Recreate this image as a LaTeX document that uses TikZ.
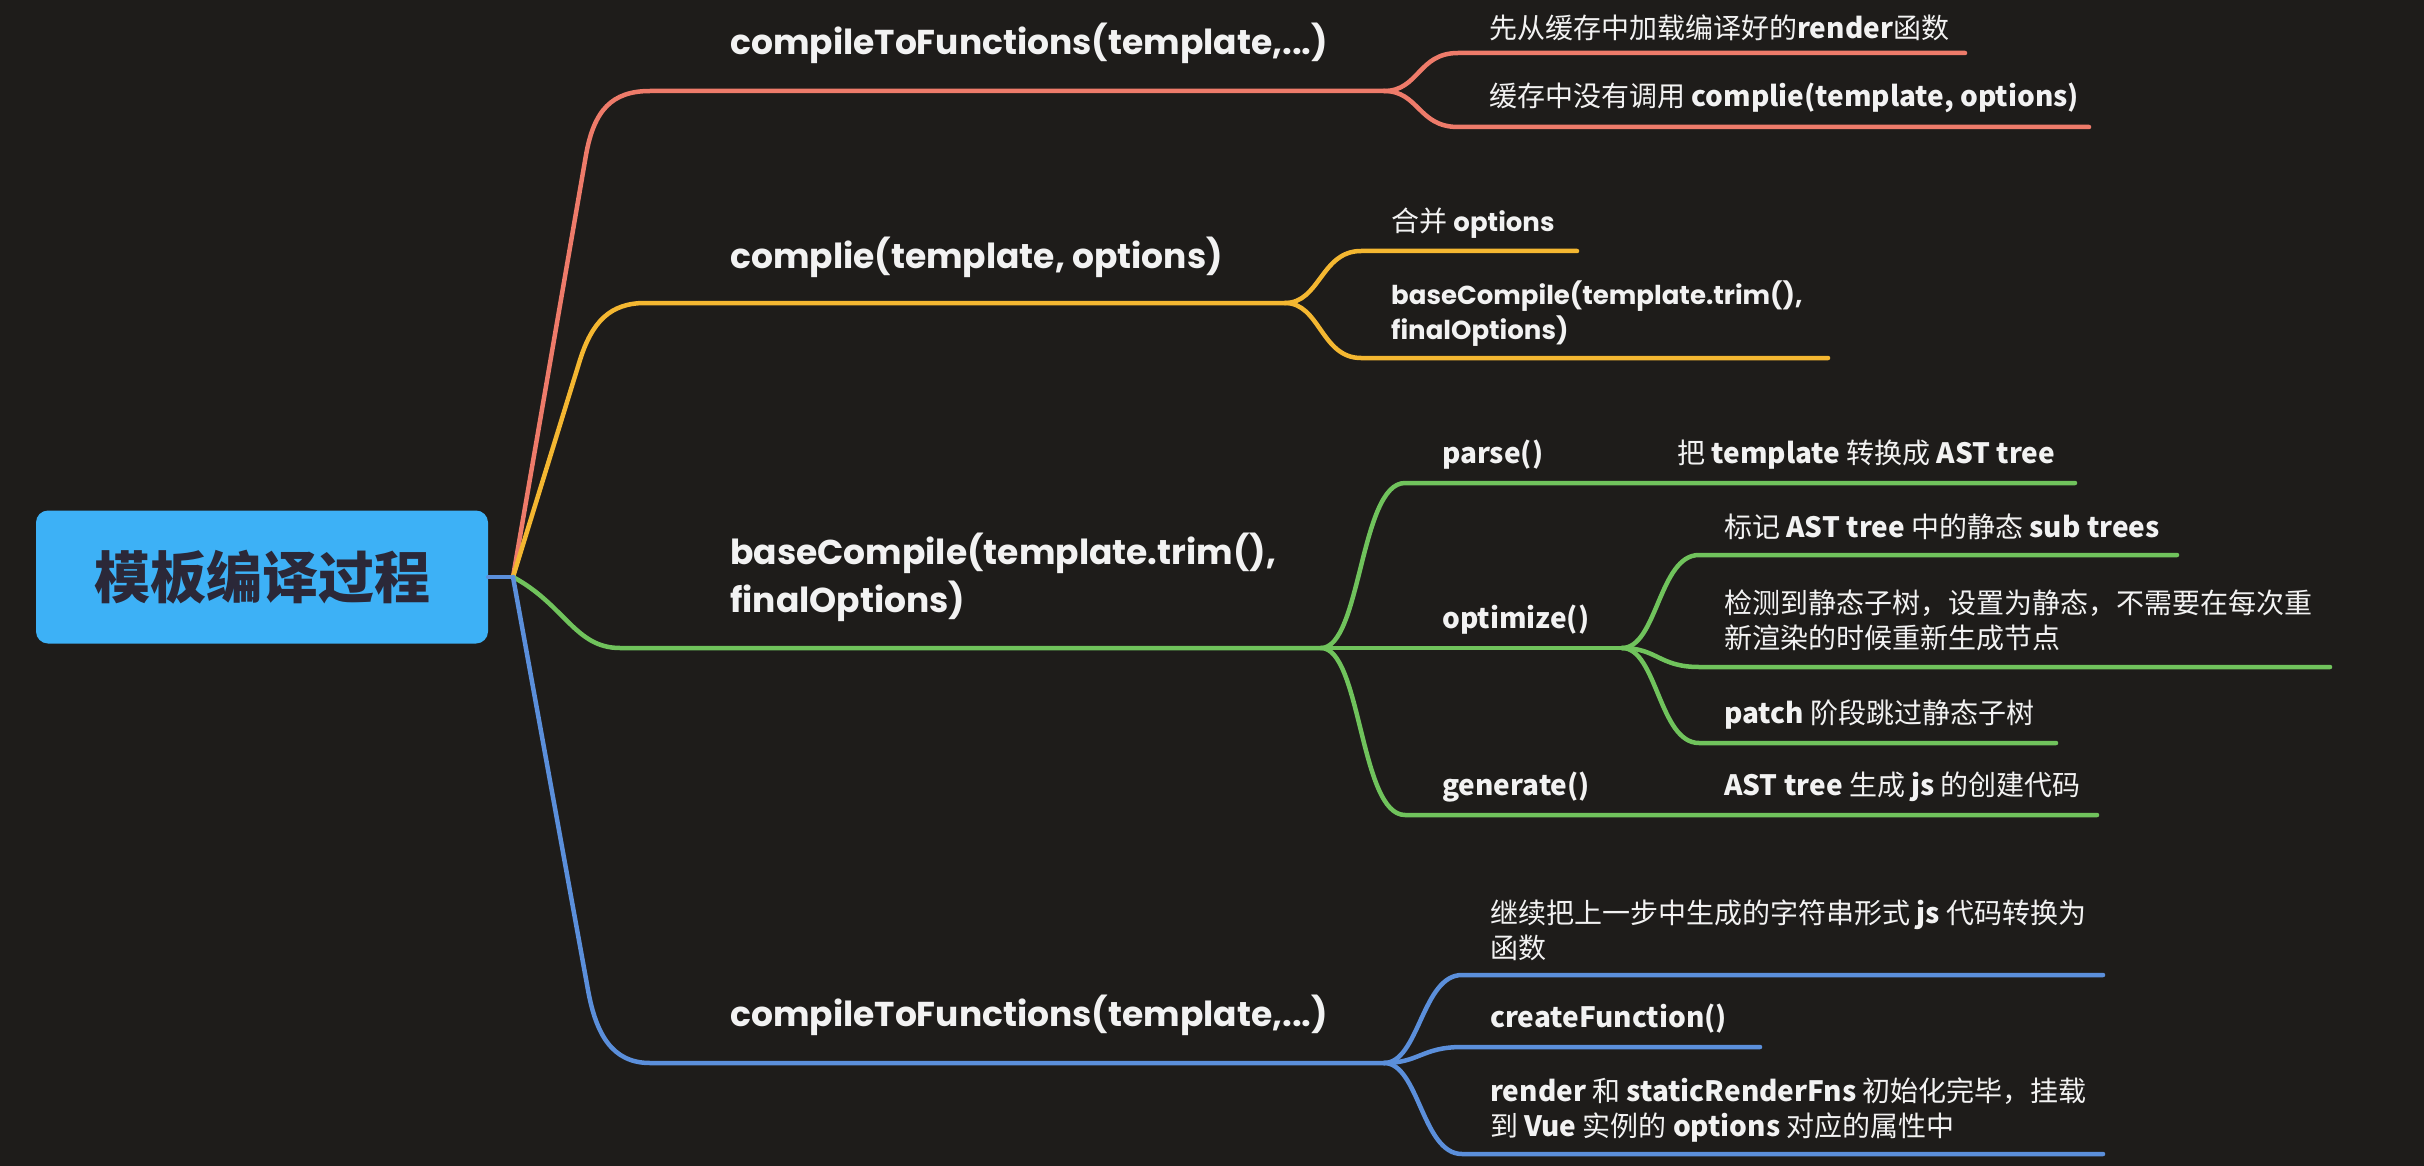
\documentclass[tikz,border=0pt]{standalone}
\usepackage{fontspec}
\newfontfamily\cjk{Noto Sans CJK SC}
\newfontfamily\pop{Poppins}
\definecolor{bgc}{HTML}{1E1C1A}
\definecolor{cred}{HTML}{EE7B6A}
\definecolor{cyel}{HTML}{F4B731}
\definecolor{cgrn}{HTML}{70C35C}
\definecolor{cblu}{HTML}{5B8FDB}
\definecolor{rootfill}{HTML}{3DB1F6}
\definecolor{roottext}{HTML}{2B2838}
\definecolor{txt}{HTML}{F2F2F2}
\newcommand\B[1]{{\bfseries #1}}
\newcommand\yl[1]{{\pop\bfseries\fontsize{26}{35}\selectfont #1}}
\begin{document}
\begin{tikzpicture}[x=1pt,y=-1pt,
  br/.style={line width=4.5pt, line cap=round, line join=round},
  mainlbl/.style={font=\pop\bfseries\fontsize{34.5}{48}\selectfont, text=txt, anchor=west, inner sep=0pt, align=left},
  sublbl/.style={font=\cjk\fontsize{28}{35}\selectfont, text=txt, anchor=west, inner sep=0pt, align=left},
  rootbox/.style={fill=rootfill, rounded corners=12pt, minimum width=452pt, minimum height=133pt, inner sep=0pt,
    font=\cjk\bfseries\fontsize{56}{60}\selectfont, text=roottext}]
\fill[bgc] (0,0) rectangle (2424,1166);
\useasboundingbox (0,0) rectangle (2424,1166);

% root
\node[rootbox] (root) at (262,577) {模板编译过程};
\coordinate (J) at (513,577);
\draw[br,cblu] (root.east) -- (J);

% ---------- red branch ----------
\coordinate (rS) at (1384,91);
\coordinate (r1a) at (1458,53);  \coordinate (r1b) at (1965,53);
\coordinate (r2a) at (1458,127); \coordinate (r2b) at (2089,127);
\draw[br,cred] (J) -- (586,155) .. controls (594,110) and (612,91) .. (650,91) -- (rS);
\draw[br,cred] (rS) .. controls +(35,0) and +(-40,0) .. (r1a) -- (r1b);
\draw[br,cred] (rS) .. controls +(35,0) and +(-40,0) .. (r2a) -- (r2b);
\node[mainlbl] (rmain) at (730,43) {compileToFunctions(template,...)};
\node[sublbl] (rc1) at (1489,28) {先从缓存中加载编译好的\B{render}函数};
\node[sublbl] (rc2) at (1489,98) {缓存中没有调用 \B{complie(template, options)}};

% ---------- yellow branch ----------
\coordinate (yS) at (1285,303);
\coordinate (y1a) at (1361,251); \coordinate (y1b) at (1577,251);
\coordinate (y2a) at (1361,358); \coordinate (y2b) at (1828,358);
\draw[br,cyel] (J) -- (580,360) .. controls (592,322) and (610,303) .. (645,303) -- (yS);
\draw[br,cyel] (yS) .. controls +(35,0) and +(-40,0) .. (y1a) -- (y1b);
\draw[br,cyel] (yS) .. controls +(35,0) and +(-40,0) .. (y2a) -- (y2b);
\node[mainlbl] (ymain) at (730,257) {complie(template, options)};
\node[sublbl] (yc1) at (1391,223) {合并 \yl{options}};
\node[sublbl] (yc2) at (1391,314) {\yl{baseCompile(template.trim(),}\\\yl{finalOptions)}};

% ---------- green branch ----------
\coordinate (gS) at (1321,648);
\coordinate (gp1) at (1405,483); \coordinate (gp2) at (2075,483);
\coordinate (gO) at (1622,648);
\coordinate (gn1) at (1405,815); \coordinate (gn2) at (2097,815);
\coordinate (go1a) at (1699,555); \coordinate (go1b) at (2177,555);
\coordinate (go2a) at (1699,667); \coordinate (go2b) at (2330,667);
\coordinate (go3a) at (1699,743); \coordinate (go3b) at (2056,743);
\draw[br,cgrn] (J) .. controls (565,605) and (575,648) .. (620,648) -- (gS);
\draw[br,cgrn] (gS) .. controls +(40,0) and +(-45,0) .. (gp1) -- (gp2);
\draw[br,cgrn] (gS) -- (gO);
\draw[br,cgrn] (gS) .. controls +(40,0) and +(-45,0) .. (gn1) -- (gn2);
\draw[br,cgrn] (gO) .. controls +(35,0) and +(-40,0) .. (go1a) -- (go1b);
\draw[br,cgrn] (gO) .. controls +(35,0) and +(-40,0) .. (go2a) -- (go2b);
\draw[br,cgrn] (gO) .. controls +(35,0) and +(-40,0) .. (go3a) -- (go3b);
\node[mainlbl] (gmain) at (730,577) {baseCompile(template.trim(),\\finalOptions)};
\node[sublbl] (gparse) at (1442,455) {\B{parse()}};
\node[sublbl] (gparset) at (1677,455) {把 \B{template} 转换成 \B{AST tree}};
\node[sublbl] (gopt) at (1442,620) {\B{optimize()}};
\node[sublbl] (gopt1) at (1724,527) {标记 \B{AST tree} 中的静态 \B{sub trees}};
\node[sublbl] (gopt2) at (1724,620) {检测到静态子树，设置为静态，不需要在每次重\\新渲染的时候重新生成节点};
\node[sublbl] (gopt3) at (1724,715) {\B{patch} 阶段跳过静态子树};
\node[sublbl] (ggen) at (1442,787) {\B{generate()}};
\node[sublbl] (ggent) at (1724,787) {\B{AST tree} 生成 \B{js} 的创建代码};

% ---------- blue branch ----------
\coordinate (bS) at (1384,1063);
\coordinate (b1a) at (1462,975);  \coordinate (b1b) at (2103,975);
\coordinate (b2a) at (1462,1047); \coordinate (b2b) at (1760,1047);
\coordinate (b3a) at (1462,1154); \coordinate (b3b) at (2103,1154);
\draw[br,cblu] (J) -- (588,990) .. controls (596,1034) and (612,1063) .. (650,1063) -- (bS);
\draw[br,cblu] (bS) .. controls +(35,0) and +(-40,0) .. (b1a) -- (b1b);
\draw[br,cblu] (bS) .. controls +(35,0) and +(-40,0) .. (b2a) -- (b2b);
\draw[br,cblu] (bS) .. controls +(35,0) and +(-40,0) .. (b3a) -- (b3b);
\node[mainlbl] (bmain) at (730,1015) {compileToFunctions(template,...)};
\node[sublbl] (bc1) at (1490,930) {继续把上一步中生成的字符串形式 \B{js} 代码转换为\\函数};
\node[sublbl] (bc2) at (1490,1019) {\B{createFunction()}};
\node[sublbl] (bc3) at (1490,1110) {\B{render} 和 \B{staticRenderFns} 初始化完毕，挂载\\到 \B{Vue} 实例的 \B{options} 对应的属性中};
\end{tikzpicture}
\end{document}
